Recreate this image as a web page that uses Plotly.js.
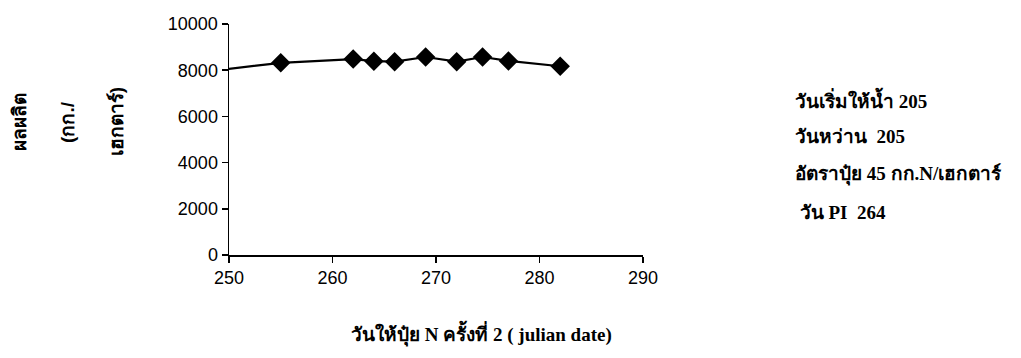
<!DOCTYPE html>
<html>
<head>
<meta charset="utf-8">
<script src="https://cdn.plot.ly/plotly-3.0.1.min.js"></script>
<style>
  html, body { margin: 0; padding: 0; background: #fff; }
  #chart { width: 1021px; height: 358px; }
</style>
</head>
<body>
<div id="chart"></div>
<script>
// Second N application date (julian day) vs. yield (kg/ha)
const applyDay = [248, 255, 262, 264, 266, 269, 272, 274.5, 277, 282];
const yieldKgHa = [7950, 8320, 8480, 8390, 8370, 8570, 8370, 8570, 8400, 8170];

const xTicks = [250, 260, 270, 280, 290];
const yTicks = [0, 2000, 4000, 6000, 8000, 10000];

const yTitleLines = ['ผลผลิต', '(กก./', 'เฮกตาร์)'];
const xTitleText = 'วันให้ปุ๋ย N ครั้งที่ 2 ( julian date)';
const noteLines = ['วันเริ่มให้น้ำ 205', 'วันหว่าน  205', 'อัตราปุ๋ย 45 กก.N/เฮกตาร์', ' วัน PI  264'];

const tickFont = { family: 'Liberation Sans, Arial, sans-serif', size: 18, color: '#000' };
const thaiSerif = { family: 'Liberation Serif, Times New Roman, serif', size: 19, color: '#000' };
const thaiSans = { family: 'Liberation Sans, Arial, sans-serif', size: 19, color: '#000' };

const trace = {
  x: applyDay,
  y: yieldKgHa,
  type: 'scatter',
  mode: 'lines+markers',
  line: { color: '#000', width: 2.2 },
  marker: { symbol: 'diamond', size: 15, color: '#000' },
  cliponaxis: true,
  hoverinfo: 'skip'
};

const annotations = [];
const yTitleX = [-0.505, -0.389, -0.27];
yTitleLines.forEach((t, i) => {
  annotations.push({
    text: '<b>' + t + '</b>', xref: 'paper', yref: 'paper',
    x: yTitleX[i], y: 0.576, xanchor: 'center', yanchor: 'middle',
    textangle: -90, showarrow: false, font: thaiSans
  });
});
const noteY = [0.675, 0.514, 0.35, 0.185];
noteLines.forEach((t, i) => {
  annotations.push({
    text: '<b>' + t + '</b>', xref: 'paper', yref: 'paper',
    x: 1.362, y: noteY[i], xanchor: 'left', yanchor: 'middle',
    showarrow: false, font: thaiSerif
  });
});
annotations.push({
  text: '<b>' + xTitleText + '</b>', xref: 'paper', yref: 'paper',
  x: 0.611, y: -0.338, xanchor: 'center', yanchor: 'middle',
  showarrow: false, font: thaiSerif
});

const layout = {
  width: 1021, height: 358,
  margin: { l: 229, r: 378, t: 24, b: 103, pad: 0 },
  paper_bgcolor: '#fff', plot_bgcolor: '#fff',
  showlegend: false,
  xaxis: {
    range: [250, 290], tickvals: xTicks, ticktext: xTicks.map(String),
    showgrid: false, zeroline: false, showline: true, linecolor: '#000', linewidth: 1.5,
    ticks: 'outside', ticklen: 6, tickcolor: '#000', tickwidth: 1.5,
    tickfont: tickFont, fixedrange: true
  },
  yaxis: {
    range: [0, 10000], tickvals: yTicks, ticktext: yTicks.map(String),
    showgrid: false, zeroline: false, showline: true, linecolor: '#000', linewidth: 1.5,
    ticks: 'outside', ticklen: 6, tickcolor: '#000', tickwidth: 1.5,
    tickfont: tickFont, fixedrange: true
  },
  annotations: annotations
};

Plotly.newPlot('chart', [trace], layout, { displayModeBar: false, staticPlot: true });
</script>
</body>
</html>
